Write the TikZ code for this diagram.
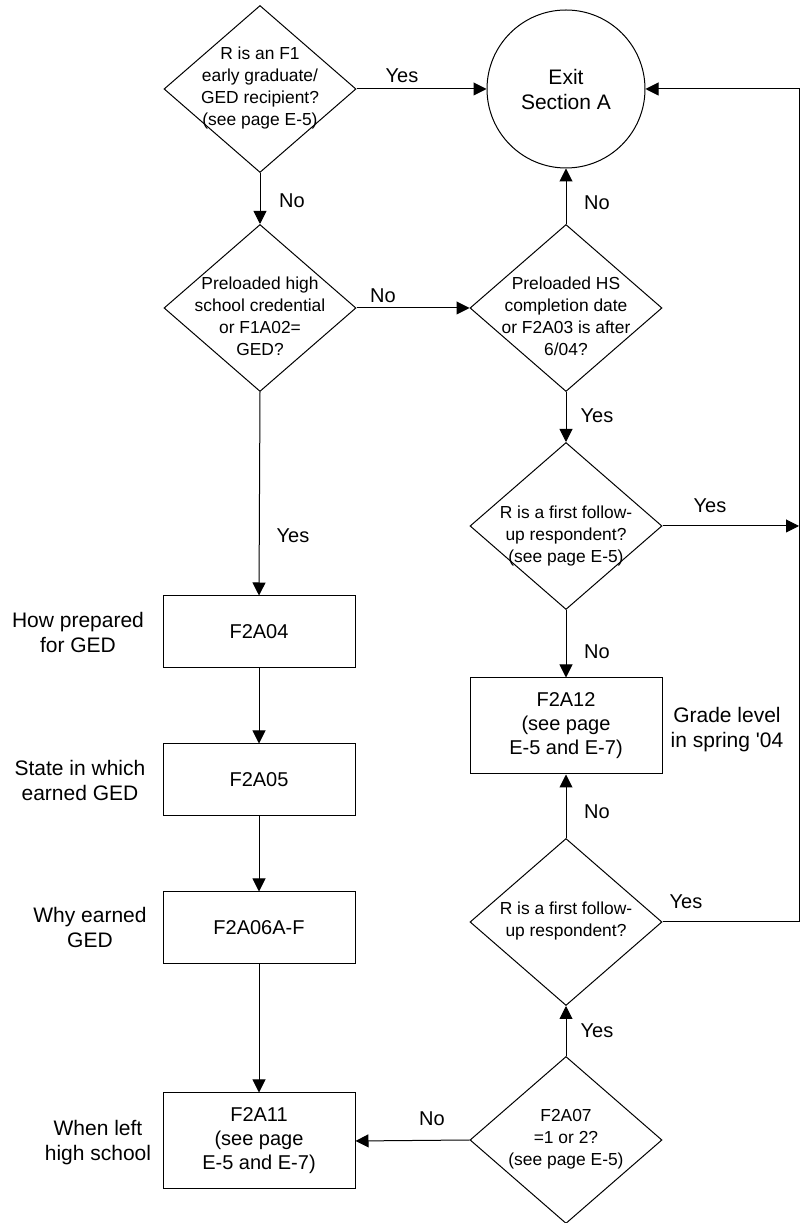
\documentclass[tikz,border=0pt]{standalone}
\usepackage{fontspec}
\setmainfont{Liberation Sans}
\usetikzlibrary{shapes.geometric,arrows.meta}

\newcommand{\flowText}[2][0pt]{\makebox[0pt]{\smash{\raisebox{\dimexpr #1-2pt\relax}{\begin{tabular}{@{}c@{}}#2\end{tabular}}}}}

\begin{document}
\begin{tikzpicture}[x=0.5pt,y=0.5pt,
  decisionNode/.style={diamond,draw=drawColor,line width=0.5pt,inner sep=0pt,minimum width=96pt,minimum height=83.5pt,font=\fontsize{8.7}{11}\selectfont},
  processNode/.style={rectangle,draw=drawColor,line width=0.5pt,inner sep=0pt,minimum width=96pt,minimum height=36pt,align=center,font=\fontsize{10}{12}\selectfont},
  exitNode/.style={circle,draw=drawColor,line width=0.5pt,inner sep=0pt,minimum size=79pt,align=center,font=\fontsize{10.5}{12.5}\selectfont},
  sideText/.style={text=drawColor,inner sep=0pt,align=center,font=\fontsize{10.5}{12.5}\selectfont},
  edgeText/.style={text=drawColor,inner sep=0pt,font=\fontsize{10}{12}\selectfont},
  flowArrow/.style={draw=drawColor,line width=0.5pt,line join=miter,-{Triangle[length=6.5pt,width=6.5pt]}}]
\definecolor{fillColor}{RGB}{255,255,255}
\definecolor{drawColor}{RGB}{0,0,0}
\path[use as bounding box,fill=fillColor] (0,0) rectangle (804,1223);

\node[decisionNode] (d1) at (260,1134) {\flowText{R is an F1\\early graduate/\\GED recipient?\\(see page E-5)}};

\node[exitNode] (exitA) at (566,1134) {Exit\\Section A};

\node[decisionNode] (d2) at (260,915) {\flowText[-5.5pt]{Preloaded high\\school credential\\or F1A02=\\GED?}};

\node[decisionNode] (d3) at (566,915) {\flowText[-5.5pt]{Preloaded HS\\completion date\\or F2A03 is after\\6/04?}};

\node[decisionNode] (d4) at (566,697) {\flowText[-5.5pt]{R is a first follow-\\up respondent?\\(see page E-5)}};

\node[processNode,minimum height=48pt] (f2a12) at (566,497) {F2A12\\(see page\\E-5 and E-7)};

\node[decisionNode] (d5) at (566,301) {\flowText{R is a first follow-\\up respondent?}};

\node[decisionNode] (d6) at (566,83) {\flowText{F2A07\\=1 or 2?\\(see page E-5)}};

\node[processNode] (f2a04) at (259,591) {F2A04};

\node[processNode] (f2a05) at (259,443) {F2A05};

\node[processNode] (f2a06) at (259,295) {F2A06A-F};

\node[processNode,minimum height=48pt] (f2a11) at (259,82) {F2A11\\(see page\\E-5 and E-7)};

\node[sideText] (howPrep) at (78,591) {How prepared\\for GED};

\node[sideText] (stateGed) at (80,443) {State in which\\earned GED};

\node[sideText] (whyGed) at (90,296) {Why earned\\GED};

\node[sideText] (whenLeft) at (98,80) {When left\\high school};

\node[sideText] (gradeLevel) at (727,493) {Grade level\\in spring \textquotesingle04};

\coordinate (loopTop) at (799,1134);

\coordinate (loopMid) at (799,697);

\coordinate (loopBot) at (799,301);

\draw[flowArrow] (d1.east) -- (exitA.west);

\draw[flowArrow] (d1.south) -- (d2.north);

\draw[flowArrow] (d2.east) -- (d3.west);

\draw[flowArrow] (d3.north) -- (exitA.south);

\draw[flowArrow] (d3.south) -- (d4.north);

\draw[flowArrow] (d4.east) -- (loopMid);

\draw[flowArrow] (d4.south) -- (f2a12.north);

\draw[flowArrow] (d5.north) -- (f2a12.south);

\draw[flowArrow] (d5.east) -- (loopBot) -- (loopTop) -- (exitA.east);

\draw[flowArrow] (d6.north) -- (d5.south);

\draw[flowArrow] (d6.west) -- (f2a11.east);

\draw[flowArrow] (d2.south) -- (f2a04.north);

\draw[flowArrow] (f2a04.south) -- (f2a05.north);

\draw[flowArrow] (f2a05.south) -- (f2a06.north);

\draw[flowArrow] (f2a06.south) -- (f2a11.north);

\node[edgeText] (yesD1) at (402,1147) {Yes};

\node[edgeText] (noD1) at (292,1022) {No};

\node[edgeText] (noD2) at (383,927) {No};

\node[edgeText] (noD3) at (597,1020) {No};

\node[edgeText] (yesD3) at (597,807) {Yes};

\node[edgeText] (yesD2) at (293,687) {Yes};

\node[edgeText] (yesD4) at (710,717) {Yes};

\node[edgeText] (noD4) at (597,571) {No};

\node[edgeText] (noD5) at (597,411) {No};

\node[edgeText] (yesD5) at (686,321) {Yes};

\node[edgeText] (yesD6) at (597,192) {Yes};

\node[edgeText] (noD6) at (432,104) {No};
\end{tikzpicture}
\end{document}
